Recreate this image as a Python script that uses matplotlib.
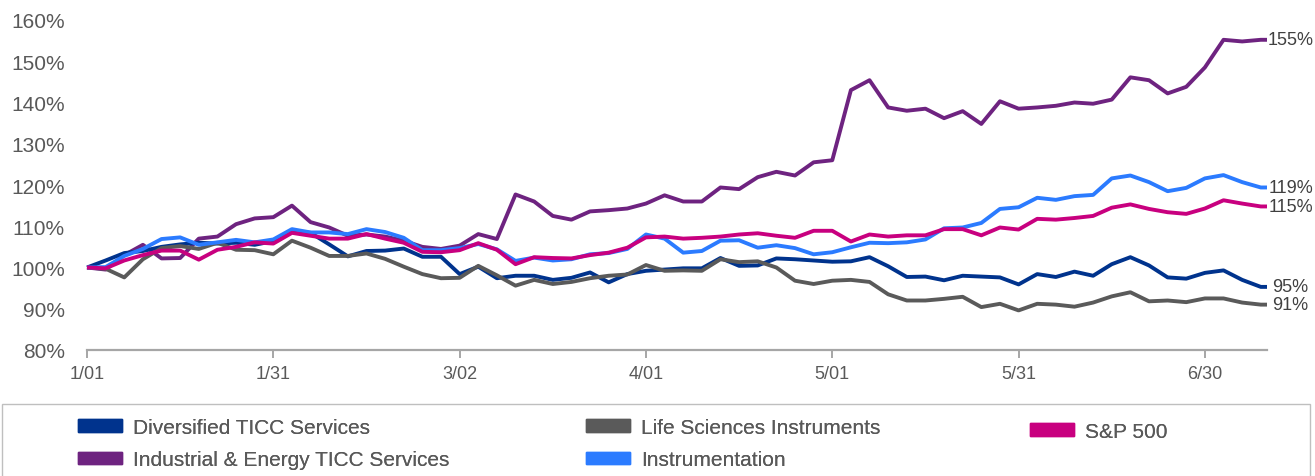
import matplotlib.pyplot as plt
import matplotlib.patches as mpatches

plt.rcParams['font.family'] = ['Liberation Sans', 'DejaVu Sans']

# day offsets from 1/01, sampled every 3 days
days = list(range(0, 190, 3)) + [190]
tick_days = [0, 30, 60, 90, 120, 150, 180]
tick_labels = ['1/01', '1/31', '3/02', '4/01', '5/01', '5/31', '6/30']
y_ticks = [80, 90, 100, 110, 120, 130, 140, 150, 160]

diversified = [
    100, 101.7, 103.5, 104, 105, 105.6, 106, 105.8, 106, 105.5,
    106.4, 108.8, 108.4, 105.6, 102.7, 104, 104.1, 104.6, 102.6, 102.6,
    98.4, 100.2, 97.4, 98, 98, 97, 97.5, 98.8, 96.4, 98.4,
    99.2, 99.5, 99.8, 99.8, 102.3, 100.4, 100.5, 102.2, 102, 101.7,
    101.4, 101.5, 102.5, 100.3, 97.7, 97.8, 96.9, 98, 97.8, 97.6,
    95.9, 98.4, 97.7, 99, 98, 100.8, 102.5, 100.5, 97.6, 97.3,
    98.7, 99.3, 97, 95.3, 95.3,
]
industrial = [
    100, 99.5, 103, 105.5, 102.2, 102.3, 107, 107.5, 110.5, 111.9,
    112.2, 115, 111, 109.7, 107.7, 108, 107.5, 106.5, 105, 104.5,
    105.3, 108.1, 106.9, 117.7, 116, 112.5, 111.6, 113.6, 113.9, 114.3,
    115.5, 117.5, 116, 116, 119.4, 119, 121.9, 123.2, 122.3, 125.5,
    126, 143, 145.4, 138.8, 138, 138.5, 136.2, 137.9, 134.8, 140.3,
    138.5, 138.8, 139.2, 140, 139.7, 140.7, 146.1, 145.4, 142.2, 143.8,
    148.5, 155.2, 154.8, 155.2, 155.2,
]
life_sciences = [
    100, 99.7, 97.6, 102, 104.7, 105.2, 104.5, 106, 104.3, 104.2,
    103.2, 106.5, 104.8, 102.8, 102.8, 103.4, 102.1, 100.2, 98.4, 97.4,
    97.5, 100.4, 98.1, 95.6, 97, 96, 96.5, 97.4, 98, 98.3,
    100.6, 99.2, 99.3, 99.2, 102, 101.3, 101.5, 100, 96.8, 96,
    96.8, 97, 96.5, 93.5, 92, 92, 92.4, 92.9, 90.4, 91.2,
    89.6, 91.2, 91, 90.5, 91.5, 93, 94, 91.8, 92, 91.6,
    92.5, 92.5, 91.5, 91, 91,
]
instrumentation = [
    100, 100.1, 102.8, 104.5, 106.9, 107.3, 105.5, 106.1, 106.7, 106.1,
    106.8, 109.3, 108.5, 108.5, 108.1, 109.3, 108.6, 107.2, 104.2, 104.2,
    104.7, 105.7, 104.4, 101.6, 102.4, 101.7, 102, 103.2, 103.5, 104.5,
    108, 107, 103.6, 104, 106.5, 106.6, 104.8, 105.4, 104.7, 103.2,
    103.7, 104.9, 106, 105.9, 106.1, 106.8, 109.5, 109.7, 110.8, 114.2,
    114.6, 116.9, 116.4, 117.3, 117.6, 121.6, 122.3, 120.7, 118.5, 119.3,
    121.6, 122.4, 120.7, 119.4, 119.4,
]
sp500 = [
    100, 99.8, 101.7, 103, 104.1, 104.1, 101.9, 104.3, 105, 106.1,
    105.8, 108.4, 107.7, 107, 107, 108.1, 107, 106, 103.8, 103.7,
    104.2, 105.9, 104.3, 100.8, 102.5, 102.3, 102.2, 103, 103.6, 104.8,
    107.3, 107.5, 107, 107.2, 107.5, 108, 108.3, 107.7, 107.2, 108.9,
    108.9, 106.3, 108, 107.5, 107.8, 107.8, 109.3, 109.3, 107.8, 109.7,
    109.2, 111.8, 111.6, 112, 112.5, 114.5, 115.3, 114.2, 113.4, 113,
    114.3, 116.3, 115.5, 114.8, 114.8,
]

series = [
    ('Diversified TICC Services', diversified, '#00338D'),
    ('Industrial & Energy TICC Services', industrial, '#6E2380'),
    ('Life Sciences Instruments', life_sciences, '#5A5A5A'),
    ('Instrumentation', instrumentation, '#2B7BFF'),
    ('S&P 500', sp500, '#C8007F'),
]
draw_order = [1, 0, 2, 3, 4]

text_grey = '#595959'

fig = plt.figure(figsize=(13.15, 4.77), dpi=100)
ax = fig.add_axes([87 / 1315, 126 / 477, 1180 / 1315, 330 / 477])

for z, i in enumerate(draw_order):
    name, vals, color = series[i]
    ax.plot(days, vals, color=color, lw=2.8, solid_joinstyle='round',
            solid_capstyle='butt', clip_on=False, zorder=2 + z)

# end-of-line value labels
for name, vals, color in series:
    ax.annotate(f'{round(vals[-1])}%', xy=(days[-1], vals[-1]),
                xytext=(17, 0), textcoords='offset points',
                ha='center', va='center', fontsize=13, color='#404040',
                annotation_clip=False)

ax.set_xlim(0, 190)
ax.set_ylim(80, 160)
ax.set_xticks(tick_days)
ax.set_xticklabels(tick_labels)
ax.set_yticks(y_ticks)
ax.set_yticklabels([f'{v}%' for v in y_ticks])

for side in ['top', 'right', 'left']:
    ax.spines[side].set_visible(False)
ax.spines['bottom'].set_color('#A6A6A6')
ax.spines['bottom'].set_linewidth(1.6)
ax.tick_params(axis='x', direction='out', length=5.5, width=1.4,
               color='#A6A6A6', labelsize=13, labelcolor=text_grey, pad=5)
ax.tick_params(axis='y', length=0, labelsize=15, labelcolor=text_grey, pad=16)

# legend box runs off the bottom edge
fig.patches.append(mpatches.Rectangle((2 / 1315, -0.1), 1308 / 1315,
                                      (477 - 405) / 477 + 0.1,
                                      transform=fig.transFigure, fill=False,
                                      ec='#BFBFBF', lw=1))

# one legend per column: (series indices, left px, top px)
legend_columns = [([0, 1], 78, 419), ([2, 3], 586, 419), ([4], 1030, 423)]
for idx, left, top in legend_columns:
    handles = [mpatches.Patch(color=series[i][2], label=series[i][0])
               for i in idx]
    leg = fig.legend(handles=handles, loc='upper left',
                     bbox_to_anchor=(left / 1315, 1 - top / 477),
                     frameon=False, fontsize=15, handlelength=2.1,
                     handleheight=0.53, handletextpad=0.53,
                     labelspacing=0.64, borderpad=0, borderaxespad=0,
                     labelcolor=text_grey)
    fig.add_artist(leg)

fig.savefig('out.png', dpi=100)
